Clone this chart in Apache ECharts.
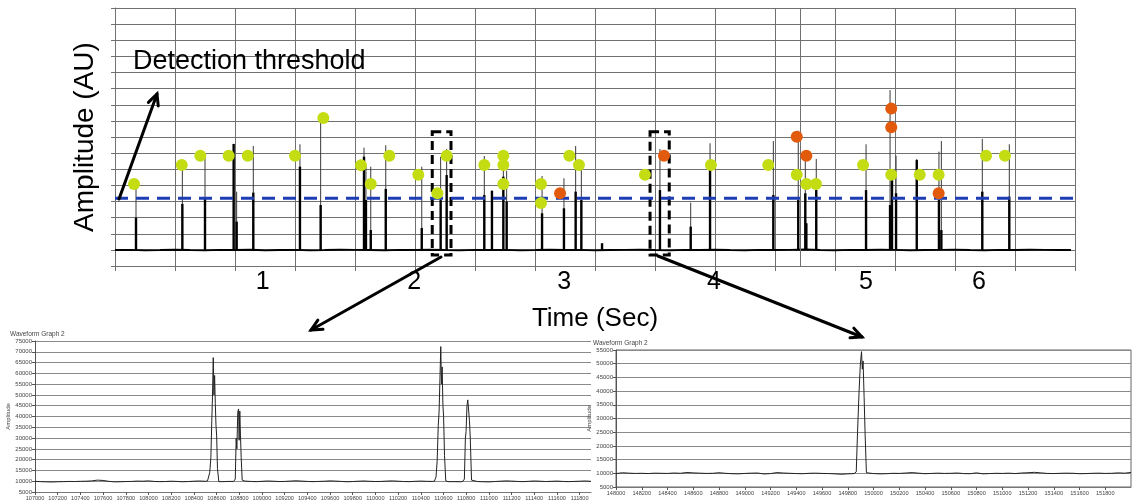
<!DOCTYPE html>
<html>
<head>
<meta charset="utf-8">
<script src="https://cdn.jsdelivr.net/npm/echarts@6/dist/echarts.min.js"></script>
<style>
  html, body { margin: 0; padding: 0; background: #fff; }
  #chart { width: 1139px; height: 504px; }
</style>
</head>
<body>
<div id="chart"></div>
<script>
// ---------- overview trace: time (s) vs amplitude (AU) ----------
const timeLabelPos = [0.985, 1.995, 2.995, 3.993, 5.007, 5.76];
const timeLabels = ['1', '2', '3', '4', '5', '6'];
const thresholdLevel = 4.2;
const baselineLevel = 0.99;
const traceStart = 0;
const traceStep = 0.1;
const traceEnd = [6.373, 0.99];
const traceValues = [
  0.99, 1.00, 0.98, 0.99, 1.01, 0.99, 0.98, 1.00, 0.99, 1.01,
  0.98, 0.99, 1.00, 0.98, 0.99, 1.01, 1.00, 0.99, 0.98, 1.00,
  0.99, 1.01, 0.99, 0.98, 1.00, 0.99, 1.00, 0.98, 0.99, 1.01,
  0.99, 1.00, 0.98, 0.99, 1.00, 1.01, 0.99, 0.98, 1.00, 0.99,
  1.01, 0.99, 0.98, 1.00, 0.99, 1.00, 1.02, 0.99, 0.98, 1.00,
  0.99, 1.01, 1.00, 0.98, 0.99, 1.00, 1.01, 0.99, 0.98, 1.00,
  0.99, 1.01, 1.00, 0.99
];
// [time, peak top, top of dense part]
const spikes = [
  [0.140, 5.09, 3.00], [0.449, 6.57, 3.85], [0.600, 6.76, 4.16], [0.791, 7.57, 7.57],
  [0.811, 4.61, 2.75], [0.922, 7.44, 4.55], [1.233, 7.55, 6.16], [1.371, 9.18, 3.78],
  [1.660, 7.34, 6.78], [1.673, 6.26, 4.09], [1.705, 6.16, 2.23], [1.805, 7.49, 4.78],
  [2.045, 6.16, 2.36], [2.171, 6.78, 4.09], [2.211, 7.26, 5.64], [2.462, 6.82, 4.40],
  [2.513, 4.67, 4.67], [2.589, 7.13, 5.54], [2.611, 5.91, 3.99], [2.847, 5.58, 3.27],
  [2.993, 5.44, 3.58], [3.071, 7.44, 4.61], [3.109, 6.47, 4.09], [3.247, 1.41, 1.41],
  [3.633, 7.26, 4.71], [3.838, 3.93, 2.44], [3.967, 7.61, 5.95], [4.389, 7.75, 4.40],
  [4.555, 8.39, 4.09], [4.602, 6.78, 4.51], [4.609, 2.65, 2.65], [4.675, 6.64, 4.71],
  [5.007, 7.55, 4.71], [5.167, 10.91, 3.78], [5.180, 5.33, 5.33], [5.207, 6.84, 4.51],
  [5.345, 6.64, 6.57], [5.493, 7.09, 4.09], [5.509, 7.75, 2.23], [5.782, 7.88, 4.61],
  [5.962, 7.55, 4.30]
];
const eventsAccepted = [
  [0.127, 5.09], [0.445, 6.26], [0.569, 6.84], [0.758, 6.84], [0.885, 6.84],
  [1.200, 6.84], [1.389, 9.18], [1.640, 6.25], [1.705, 5.09], [1.829, 6.84],
  [2.022, 5.66], [2.149, 4.51], [2.211, 6.84], [2.462, 6.26], [2.589, 6.84],
  [2.589, 6.26], [2.589, 5.09], [2.840, 5.09], [2.840, 3.91], [3.029, 6.84],
  [3.093, 6.26], [3.533, 5.66], [3.973, 6.26], [4.355, 6.26], [4.545, 5.66],
  [4.609, 5.09], [4.673, 5.09], [4.987, 6.26], [5.175, 5.66], [5.365, 5.66],
  [5.491, 5.66], [5.807, 6.84], [5.933, 6.84]
];
const eventsRejected = [
  [2.967, 4.51], [3.660, 6.84], [4.545, 8.02], [4.609, 6.84],
  [5.175, 9.76], [5.175, 8.60], [5.491, 4.51]
];
const markerTime = 4.573;
// zoomed windows: [t0, t1, amplitude bottom, amplitude top]
const zoomWindows = [
  [2.115, 2.240, 0.68, 8.33],
  [3.567, 3.695, 0.68, 8.33]
];

// ---------- detail window A (sample index vs amplitude) ----------
const waveAStart = 107000;
const waveAStep = 50;
const waveABase = [
  9950, 9800, 9700, 9650, 9750, 9800, 9900, 9850, 9950, 10000,
  10150, 10500, 10350, 9950, 9700, 9750, 9850, 9900, 10050, 10000,
  10150, 9900, 9800, 9850, 10000, 9900, 9750, 9850, 10000, 10100,
  9950, 9900, 9850, 9800, 9900, 9850, 9950, 10050, 9900, 9800,
  9950, 10100, 10000, 9850, 9900, 10050, 10200, 10050, 9900, 9800,
  9900, 10000, 10150, 10050, 9900, 9750, 9850, 10000, 10100, 9950,
  9850, 9900, 10050, 10150, 10000, 9850, 9800, 9950, 10050, 9950,
  9900, 9850, 9950, 10000, 9800, 9750, 9900, 10000, 9850, 9750,
  9700, 9850, 10000, 10150, 10050, 9900, 9800, 9950, 10100, 10000,
  9850, 9950, 10050, 9900, 9800, 9900, 10000, 10100, 9950
];
const peakA1 = [[108520,10100],[108540,14000],[108550,21000],[108558,38000],[108564,49000],[108571,67300],[108577,50000],[108583,59000],[108589,46000],[108595,36000],[108601,31000],[108608,16000],[108620,9800]];
const peakA2 = [[108750,9900],[108765,11000],[108773,30000],[108779,25000],[108787,42000],[108794,43500],[108799,29000],[108805,42500],[108811,31000],[108817,21000],[108826,10500],[108840,9800]];
const peakA3 = [[110520,10000],[110534,12000],[110544,19000],[110554,36000],[110561,42000],[110569,58000],[110576,72400],[110582,55000],[110588,63000],[110595,45000],[110601,40000],[110609,22000],[110620,10200],[110640,9800]];
const peakA4 = [[110770,9900],[110784,11000],[110793,30000],[110799,33000],[110807,45000],[110814,47700],[110821,47000],[110829,38000],[110836,30000],[110847,10500],[110860,9900]];

// ---------- detail window B ----------
const waveBStart = 148000;
const waveBStep = 50;
const waveBBase = [
  9900, 10200, 10050, 9950, 10000, 9900, 10050, 10000, 9950, 10100,
  10000, 10300, 10150, 10050, 9950, 10000, 10200, 10000, 9850, 9800,
  9950, 10050, 10100, 9750, 9900, 10250, 10100, 10000, 9900, 9850,
  10000, 10050, 9950, 9900, 9800, 9650, 9800, 9900, 9850, 9800,
  9900, 9800, 9850, 10000, 9950, 10100, 10250, 10050, 9850, 9950,
  10050, 9950, 10000, 10100, 9900, 9850, 10150, 9800, 9900, 10000,
  9950, 10050, 9900, 10100, 10200, 10350, 10150, 9950, 9900, 10000,
  10050, 10000, 9850, 9900, 10000, 10050, 9950, 10000, 10150, 10050,
  10300
];
const peakB1 = [[149850,9900],[149866,10500],[149876,25000],[149888,40000],[149898,50000],[149907,54400],[149913,48000],[149919,51000],[149927,38000],[149935,24000],[149945,10200],[149960,9800]];

// ---------- helpers ----------
function sampled(start, step, values) {
  return values.map((v, i) => [+(start + i * step).toFixed(4), v]);
}
function withPeaks(base, peaks) {
  const spans = peaks.map(p => [p[0][0], p[p.length - 1][0]]);
  const kept = base.filter(([x]) => !spans.some(([a, b]) => x >= a && x <= b));
  return kept.concat(...peaks).sort((a, b) => a[0] - b[0]);
}

const traceData = sampled(traceStart, traceStep, traceValues).concat([traceEnd]);
const waveA = withPeaks(sampled(waveAStart, waveAStep, waveABase), [peakA1, peakA2, peakA3, peakA4]);
const waveB = withPeaks(sampled(waveBStart, waveBStep, waveBBase), [peakB1]);

const FONT = "'Liberation Sans', Arial, Helvetica, sans-serif";
const gridGray = '#707070';

function detailXAxis(gridIndex, min, max) {
  return {
    gridIndex, type: 'value', min, max, interval: 200,
    axisLine: { show: true, lineStyle: { color: '#777', width: 1 } },
    axisTick: { show: true, length: 3, lineStyle: { color: '#555' } },
    axisLabel: { margin: 3, showMaxLabel: false, formatter: v => String(v),
      fontSize: 5.6, color: '#444', fontFamily: FONT },
    splitLine: { show: false }
  };
}
function detailYAxis(gridIndex, min, max, gap) {
  return {
    gridIndex, type: 'value', min, max, interval: 5000,
    axisLine: { show: true, lineStyle: { color: '#555', width: 1 } },
    axisTick: { show: true, length: 3, lineStyle: { color: '#555' } },
    axisLabel: { margin: 3, formatter: v => String(v),
      fontSize: 6, color: '#444', fontFamily: FONT },
    splitLine: { show: true, lineStyle: { color: '#8a8a8a', width: 1.2 } },
    name: 'Amplitude', nameLocation: 'middle', nameRotate: 90, nameGap: gap,
    nameTextStyle: { fontSize: 6, color: '#444', fontFamily: FONT }
  };
}

const chart = echarts.init(document.getElementById('chart'), null, { renderer: 'canvas' });

const option = {
  animation: false,
  backgroundColor: '#fff',
  grid: [
    { left: 115, top: 8, width: 960, height: 258, outerBoundsMode: 'none' },
    { left: 35, top: 341, width: 556, height: 151, outerBoundsMode: 'none' },
    { left: 616, top: 350, width: 515, height: 137, outerBoundsMode: 'none',
      show: true, borderColor: '#666', borderWidth: 1, backgroundColor: 'transparent' }
  ],
  xAxis: [
    {
      gridIndex: 0, type: 'value', min: 0, max: 6.4, interval: 0.4,
      axisLine: { show: true, lineStyle: { color: gridGray, width: 1 } },
      axisTick: { show: true, length: 5, lineStyle: { color: gridGray } },
      axisLabel: { show: false },
      splitLine: { show: true, lineStyle: { color: gridGray, width: 1 } },
      name: 'Time (Sec)', nameLocation: 'middle', nameGap: 40,
      nameTextStyle: { fontSize: 26, color: '#000', fontFamily: FONT }
    },
    {
      gridIndex: 0, type: 'value', min: 0, max: 6.4, position: 'bottom',
      axisLine: { show: false }, axisTick: { show: false }, splitLine: { show: false },
      axisLabel: {
        customValues: timeLabelPos,
        formatter: v => {
          let best = 0;
          timeLabelPos.forEach((p, i) => { if (Math.abs(p - v) < Math.abs(timeLabelPos[best] - v)) best = i; });
          return timeLabels[best];
        },
        fontSize: 25, color: '#000', fontFamily: FONT, margin: 4
      }
    },
    detailXAxis(1, 107000, 111900),
    detailXAxis(2, 148000, 152000)
  ],
  yAxis: [
    {
      gridIndex: 0, type: 'value', min: 0, max: 16, interval: 1,
      axisLine: { show: true, lineStyle: { color: gridGray, width: 1 } },
      axisTick: { show: true, length: 4, lineStyle: { color: gridGray } },
      axisLabel: { show: false },
      splitLine: { show: true, lineStyle: { color: gridGray, width: 1 } },
      name: 'Amplitude (AU)', nameLocation: 'middle', nameRotate: 90, nameGap: 16,
      nameTextStyle: { fontSize: 28, color: '#000', fontFamily: FONT }
    },
    detailYAxis(1, 5000, 75000, 18),
    detailYAxis(2, 5000, 55000, 13)
  ],
  series: [
    {
      type: 'line', xAxisIndex: 0, yAxisIndex: 0, data: traceData,
      symbol: 'none', lineStyle: { color: '#000', width: 2 }, z: 3,
      markLine: {
        silent: true, symbol: 'none', label: { show: false },
        lineStyle: { color: gridGray, width: 1, type: 'solid' },
        data: [{ xAxis: markerTime }]
      }
    },
    {
      type: 'custom', xAxisIndex: 0, yAxisIndex: 0, data: spikes, z: 3,
      encode: { x: 0, y: [1, 2] },
      renderItem: (params, api) => {
        const t = api.value(0);
        const base = api.coord([t, baselineLevel]);
        const top = api.coord([t, api.value(1)]);
        const dense = api.coord([t, api.value(2)]);
        return {
          type: 'group',
          children: [
            { type: 'line', shape: { x1: base[0], y1: base[1], x2: top[0], y2: top[1] },
              style: { stroke: '#3a3a3a', lineWidth: 1 } },
            { type: 'line', shape: { x1: base[0], y1: base[1], x2: dense[0], y2: dense[1] },
              style: { stroke: '#000', lineWidth: 2.4 } }
          ]
        };
      }
    },
    {
      type: 'line', xAxisIndex: 0, yAxisIndex: 0, clip: false,
      data: [[0, thresholdLevel], [6.465, thresholdLevel]],
      symbol: 'none', z: 4,
      lineStyle: { color: '#1d3db5', width: 3, type: [13, 8] }
    },
    {
      type: 'scatter', xAxisIndex: 0, yAxisIndex: 0, data: eventsAccepted,
      symbol: 'circle', symbolSize: 12, z: 5,
      itemStyle: { color: '#c4dc12', opacity: 1 }
    },
    {
      type: 'scatter', xAxisIndex: 0, yAxisIndex: 0, data: eventsRejected,
      symbol: 'circle', symbolSize: 12, z: 5,
      itemStyle: { color: '#e25a0c', opacity: 1 },
      markArea: {
        silent: true,
        itemStyle: { color: 'rgba(0,0,0,0)', borderColor: '#000', borderWidth: 3, borderType: [9, 5] },
        data: zoomWindows.map(w => [{ coord: [w[0], w[3]] }, { coord: [w[1], w[2]] }])
      }
    },
    {
      type: 'line', xAxisIndex: 2, yAxisIndex: 1, data: waveA,
      symbol: 'none', lineStyle: { color: '#222', width: 1 }, z: 3
    },
    {
      type: 'line', xAxisIndex: 3, yAxisIndex: 2, data: waveB,
      symbol: 'none', lineStyle: { color: '#222', width: 1 }, z: 3
    }
  ]
};

// arrow annotation: shaft plus a two-stroke head
function arrow(x1, y1, x2, y2) {
  const a = Math.atan2(y2 - y1, x2 - x1);
  const h = 12, s = 0.45;
  const p1 = [x2 - h * Math.cos(a - s), y2 - h * Math.sin(a - s)];
  const p2 = [x2 - h * Math.cos(a + s), y2 - h * Math.sin(a + s)];
  const style = { stroke: '#000', lineWidth: 3, fill: null, lineCap: 'round', lineJoin: 'miter' };
  return [
    { type: 'line', z: 20, shape: { x1, y1, x2, y2 }, style },
    { type: 'polyline', z: 20, shape: { points: [p1, [x2, y2], p2] }, style }
  ];
}

option.graphic = [
  { type: 'text', left: 133, top: 48, z: 20,
    style: { text: 'Detection threshold', fontSize: 27, fill: '#000', fontFamily: FONT } },
  { type: 'text', left: 10, top: 331, z: 20,
    style: { text: 'Waveform Graph 2', fontSize: 6.5, fill: '#444', fontFamily: FONT } },
  { type: 'text', left: 593, top: 340, z: 20,
    style: { text: 'Waveform Graph 2', fontSize: 6.5, fill: '#444', fontFamily: FONT } }
].concat(
  arrow(119, 199, 157, 94),
  arrow(441, 257, 311, 330),
  arrow(658, 256, 862, 337)
);

chart.setOption(option);
</script>
</body>
</html>
